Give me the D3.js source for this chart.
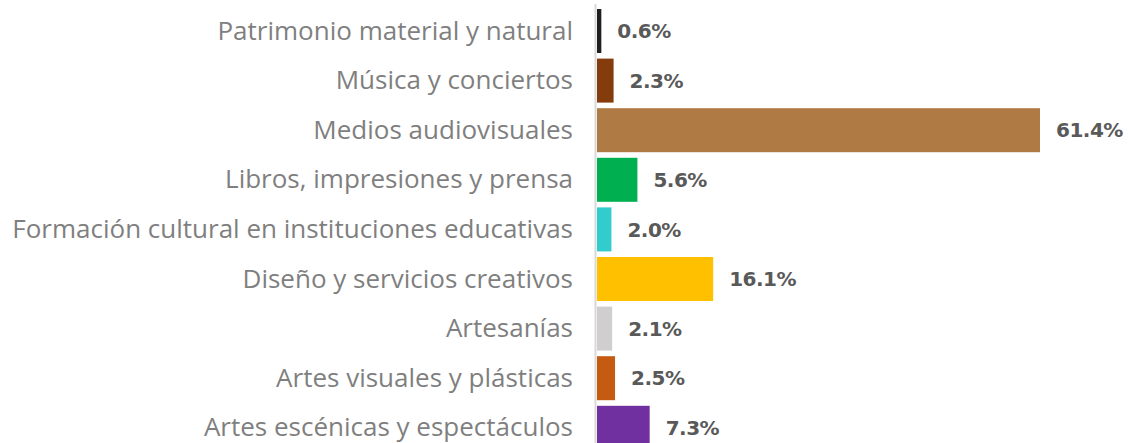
<!DOCTYPE html>
<html>
<head>
<meta charset="utf-8">
<script src="https://cdn.jsdelivr.net/npm/d3@7"></script>
<style>
  body { margin: 0; background: #fff; }
  .cat { font-family: "Open Sans", sans-serif; fill: #7f7f7f; }
  .val { font-family: "DejaVu Sans", sans-serif; font-weight: bold; fill: #595959; }
</style>
</head>
<body>
<div id="chart"></div>
<script>
// categories, top to bottom
var categories = [
  "Patrimonio material y natural",
  "Música y conciertos",
  "Medios audiovisuales",
  "Libros, impresiones y prensa",
  "Formación cultural en instituciones educativas",
  "Diseño y servicios creativos",
  "Artesanías",
  "Artes visuales y plásticas",
  "Artes escénicas y espectáculos"
];
var values = [0.6, 2.3, 61.4, 5.6, 2.0, 16.1, 2.1, 2.5, 7.3];
var barColors = ["#1f1f1f", "#843c0c", "#af7a44", "#00b050", "#33cccc",
                 "#ffc000", "#d0cece", "#c55a11", "#7030a0"];

var width = 1128, height = 443;
var x0 = 597;

var data = categories.map(function(c, i) {
  return {cat: c, value: values[i], color: barColors[i]};
});

var svg = d3.select("#chart")
  .append("svg")
    .attr("width", width)
    .attr("height", height);

var x = d3.scaleLinear()
  .domain([0, 61.4])
  .range([x0, 1040]);

var y = d3.scaleBand()
  .domain(categories)
  .range([6.2, 6.2 + 9 * 49.6])
  .paddingInner(0.113)
  .paddingOuter(0.0565);

// axis line
svg.append("line")
  .attr("x1", x0 - 1.5).attr("x2", x0 - 1.5)
  .attr("y1", 4).attr("y2", height)
  .attr("stroke", "#d9d9d9")
  .attr("stroke-width", 2);

svg.selectAll(".bar")
  .data(data)
  .enter()
  .append("rect")
    .attr("class", "bar")
    .attr("x", x(0))
    .attr("y", function(d) { return y(d.cat); })
    .attr("width", function(d) { return x(d.value) - x(0); })
    .attr("height", y.bandwidth())
    .attr("fill", function(d) { return d.color; });

// category labels
var labels = svg.selectAll(".cat")
  .data(data)
  .enter()
  .append("text")
    .attr("class", "cat")
    .attr("x", 573)
    .attr("y", function(d) { return y(d.cat) + y.bandwidth() / 2; })
    .attr("dy", "0.33em")
    .attr("text-anchor", "end")
    .style("font-size", "22px")
    .text(function(d) { return d.cat; });

// fit the longest label to the reference width
var longest = d3.max(labels.nodes(), function(n) { return n.getComputedTextLength(); });
var fs = 22 * 561 / longest;
labels.style("font-size", fs + "px");

// value labels
svg.selectAll(".val")
  .data(data)
  .enter()
  .append("text")
    .attr("class", "val")
    .attr("x", function(d) { return x(d.value) + 16; })
    .attr("y", function(d) { return y(d.cat) + y.bandwidth() / 2; })
    .attr("dy", "0.36em")
    .style("font-size", "20px")
    .style("letter-spacing", "-0.5px")
    .text(function(d) { return d.value.toFixed(1) + "%"; });
</script>
</body>
</html>
